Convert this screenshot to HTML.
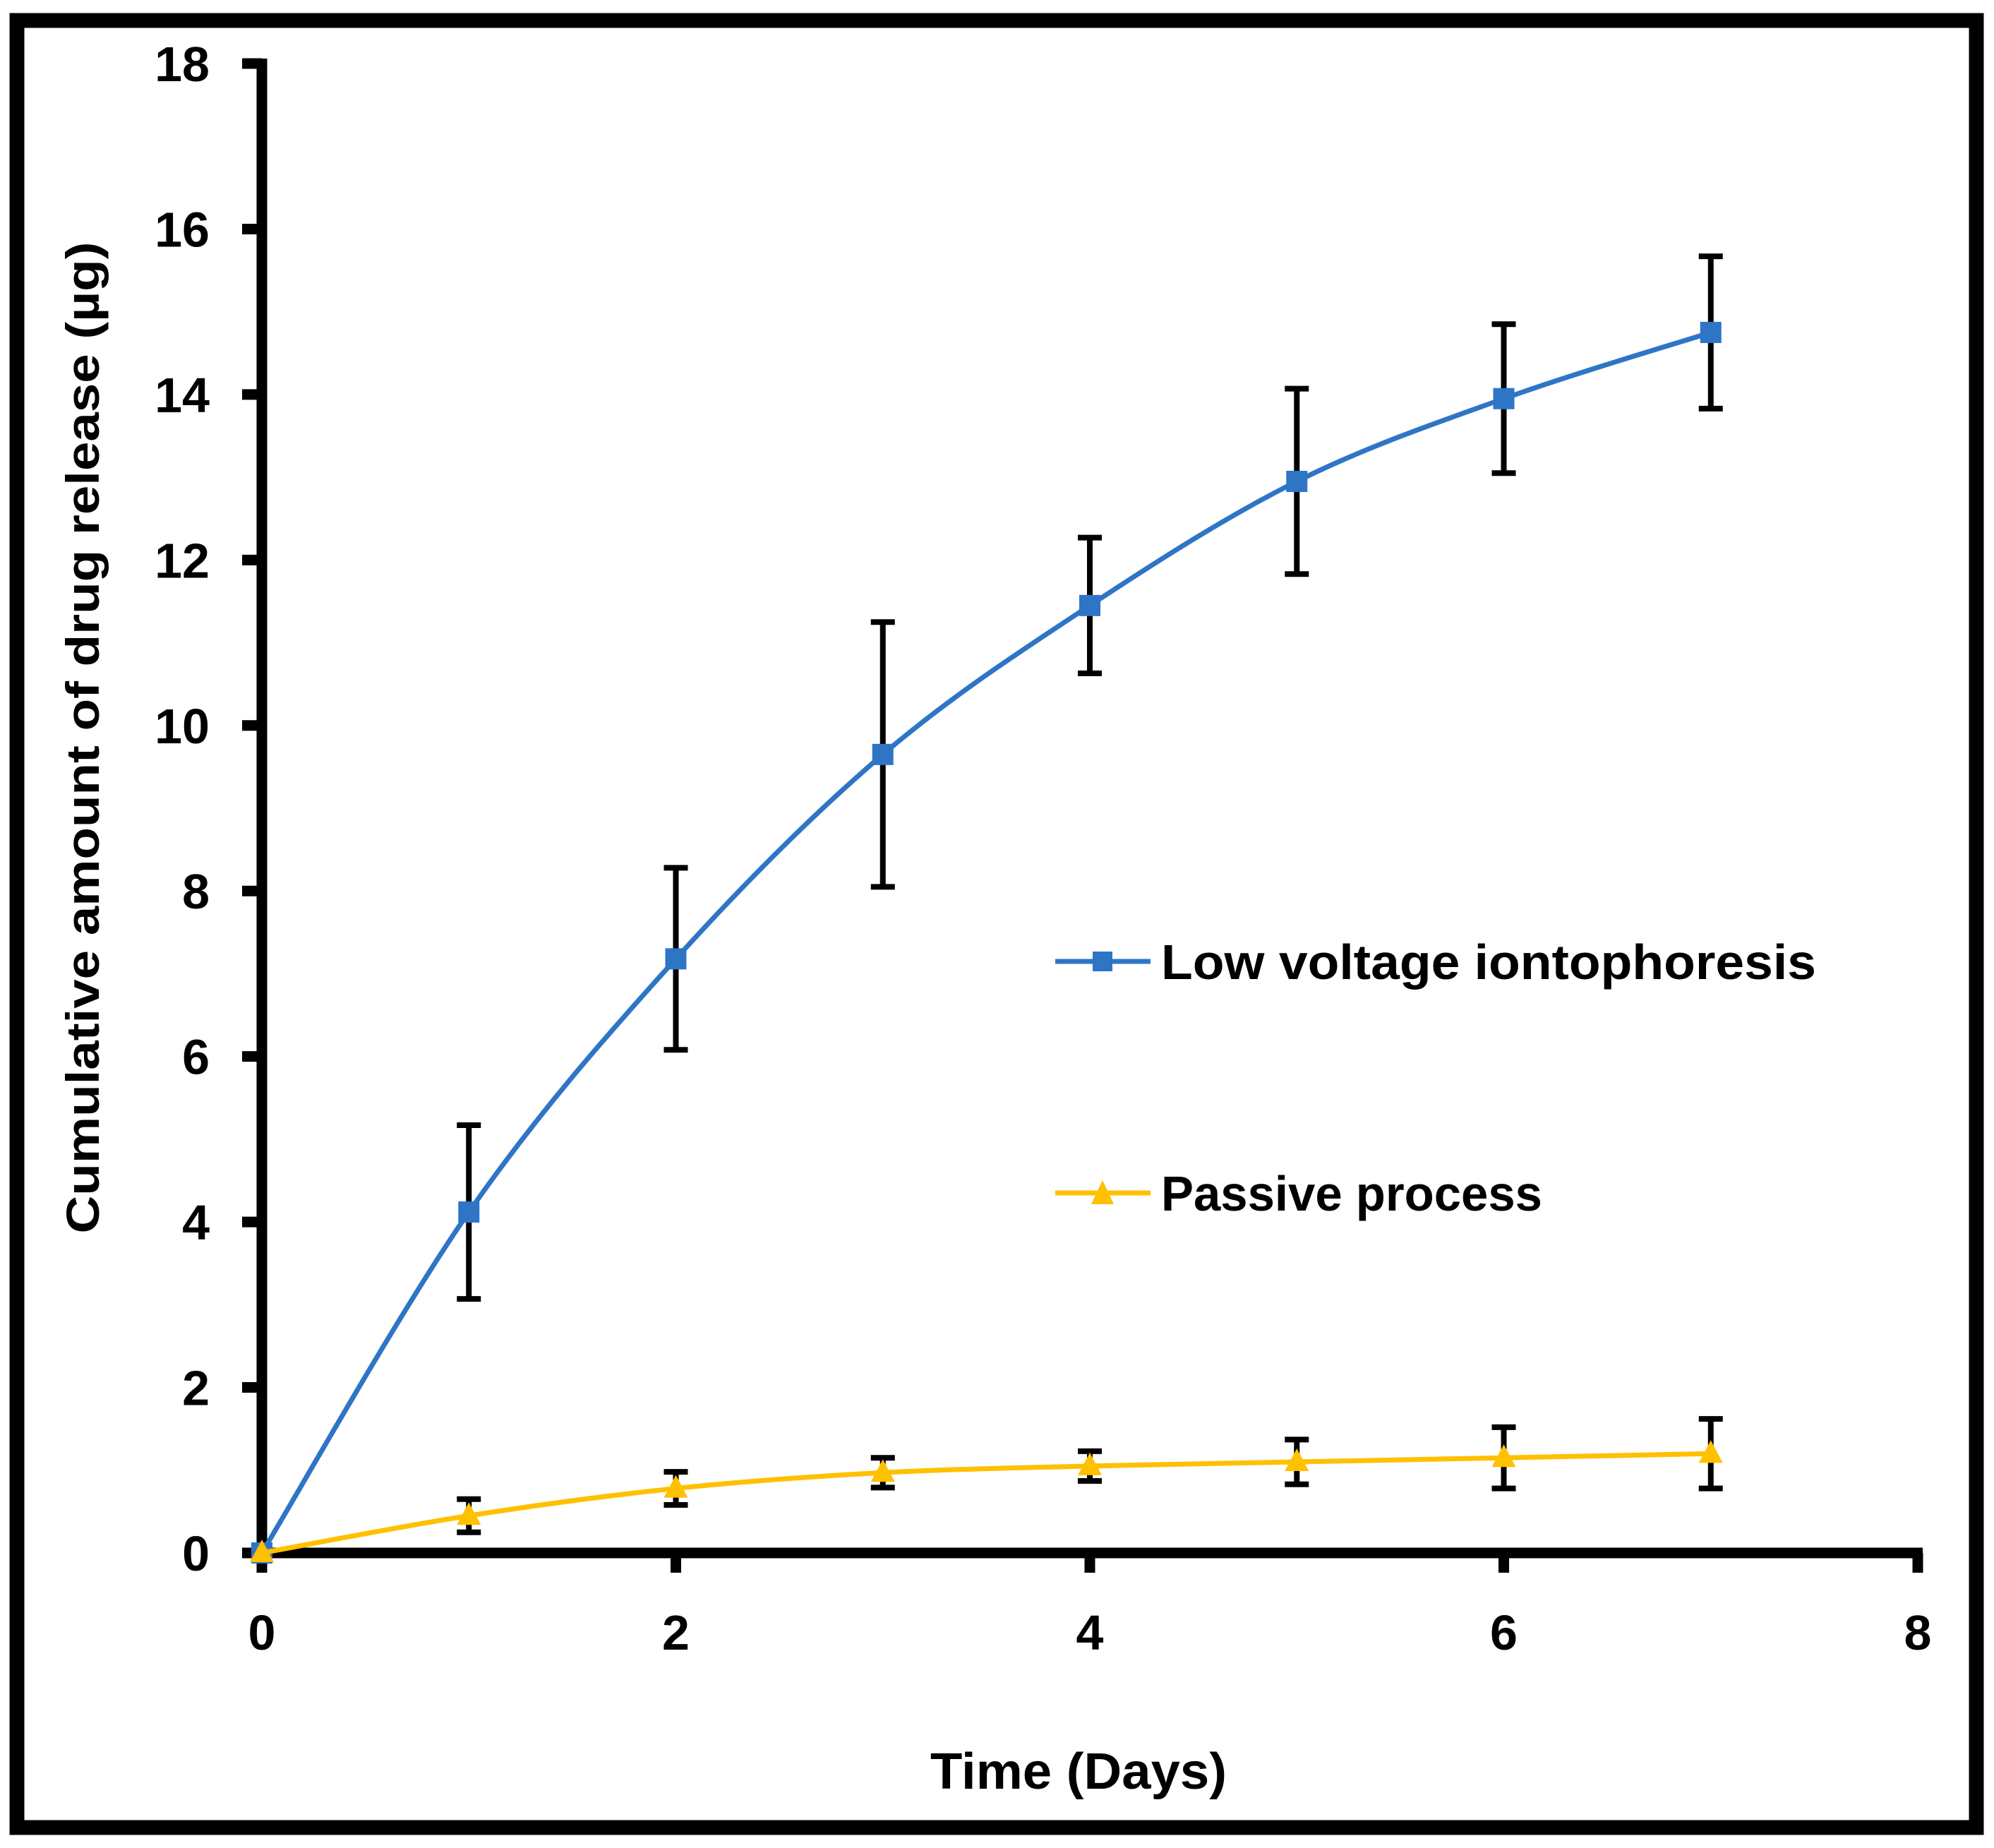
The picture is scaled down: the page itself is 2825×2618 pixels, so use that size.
<!DOCTYPE html>
<html><head><meta charset="utf-8"><style>
html,body{margin:0;padding:0;background:#fff;}
svg{display:block;}
text{font-family:"Liberation Sans",sans-serif;font-weight:bold;fill:#000;}
</style></head><body>
<svg id="chart" width="2825" height="2618" viewBox="0 0 2825 2618" xmlns="http://www.w3.org/2000/svg">
<rect x="24" y="29" width="2776" height="2560" fill="#fff" stroke="#000" stroke-width="21"/>
<g id="grid"></g>
<g id="series"></g>
<text x="1528" y="2534" font-size="72" text-anchor="middle" textLength="420" lengthAdjust="spacingAndGlyphs">Time (Days)</text>
<text transform="translate(140,1045) rotate(-90)" font-size="66" text-anchor="middle" textLength="1405" lengthAdjust="spacingAndGlyphs">Cumulative amount of drug release (µg)</text>
<g>
 <line x1="1495" y1="1362" x2="1630" y2="1362" stroke="#2E75C6" stroke-width="7"/>
 <rect x="1548" y="1348" width="28" height="28" fill="#2E75C6"/>
 <text x="1645" y="1387" font-size="70" textLength="928" lengthAdjust="spacingAndGlyphs">Low voltage iontophoresis</text>
 <line x1="1495" y1="1690" x2="1630" y2="1690" stroke="#FFC000" stroke-width="7"/>
 <polygon points="1562,1672 1578,1706 1546,1706" fill="#FFC000"/>
 <text x="1645" y="1715" font-size="70" textLength="540" lengthAdjust="spacingAndGlyphs">Passive process</text>
</g>
</svg>
<script>
const days = [0,1,2,3,4,5,6,7];
const ionto = [0,4.12,7.18,9.65,11.45,12.95,13.95,14.75];
const iontoErr = [0,1.05,1.1,1.6,0.82,1.12,0.9,0.92];
const passive = [0,0.45,0.78,0.97,1.05,1.1,1.15,1.2];
const passiveErr = [0,0.2,0.2,0.18,0.18,0.27,0.37,0.42];
const xTicks = [0,2,4,6,8];
const yTicks = [0,2,4,6,8,10,12,14,16,18];

const NS="http://www.w3.org/2000/svg";
const X0=371,X1=2717,Y0=2200,Y1=90;
function sx(v){return X0+(v-0)/(8-0)*(X1-X0);}
function sy(v){return Y0-(v-0)/(18-0)*(Y0-Y1);}
function mk(tag,attrs,parent){const e=document.createElementNS(NS,tag);for(const k in attrs)e.setAttribute(k,attrs[k]);parent.appendChild(e);return e;}
const grid=document.getElementById('grid');
const ser=document.getElementById('series');

const ya=mk('line',{x1:X0,y1:Y0+7,x2:X0,y2:Y1-7,stroke:'#000','stroke-width':15},grid);


const xa=mk('line',{x1:X0-7,y1:Y0,x2:X1+7,y2:Y0,stroke:'#000','stroke-width':15},grid);


yTicks.forEach(v=>{
  const t=mk('line',{x1:X0-28,y1:sy(v),x2:X0,y2:sy(v),stroke:'#000','stroke-width':15},grid);
  
  
  const l=mk('text',{x:297,y:sy(v)+25,'font-size':70,'text-anchor':'end'},grid);
  
  
  l.textContent=v;
});
xTicks.forEach(v=>{
  const t=mk('line',{x1:sx(v),y1:Y0,x2:sx(v),y2:Y0+28,stroke:'#000','stroke-width':15},grid);
  
  
  const l=mk('text',{x:sx(v),y:2337,'font-size':70,'text-anchor':'middle'},grid);
  
  
  l.textContent=v;
});

function smooth(pts){
  let d=`M${pts[0][0]},${pts[0][1]}`;
  for(let i=0;i<pts.length-1;i++){
    const p0=pts[i-1]||pts[i],p1=pts[i],p2=pts[i+1],p3=pts[i+2]||p2;
    const t=1/6;
    const c1=[p1[0]+(p2[0]-p0[0])*t,p1[1]+(p2[1]-p0[1])*t];
    const c2=[p2[0]-(p3[0]-p1[0])*t,p2[1]-(p3[1]-p1[1])*t];
    d+=` C${c1[0]},${c1[1]} ${c2[0]},${c2[1]} ${p2[0]},${p2[1]}`;
  }
  return d;
}
function drawSeries(vals,errs,color,shape,name){
  const pts=days.map((d,i)=>[sx(d),sy(vals[i])]);
  const p=mk('path',{d:smooth(pts),fill:'none',stroke:color,'stroke-width':7},ser);
  
  
  days.forEach((d,i)=>{
    const x=sx(d);
    if(errs[i]>0){
      const top=sy(vals[i]+errs[i]),bot=sy(vals[i]-errs[i]);
      const e=mk('path',{d:`M${x},${top}V${bot}M${x-17},${top}H${x+17}M${x-17},${bot}H${x+17}`,stroke:'#000','stroke-width':8,fill:'none'},ser);
      
      
    }
  });
  days.forEach((d,i)=>{
    const x=sx(d),y=sy(vals[i]);
    let m;
    if(shape==='sq') m=mk('rect',{x:x-15,y:y-15,width:30,height:30,fill:color},ser);
    else m=mk('polygon',{points:`${x},${y-19} ${x+17},${y+13} ${x-17},${y+13}`,fill:color},ser);
    
    
  });
}
drawSeries(ionto,iontoErr,'#2E75C6','sq','iontophoresis');
drawSeries(passive,passiveErr,'#FFC000','tri','passive');
</script>
</body></html>
